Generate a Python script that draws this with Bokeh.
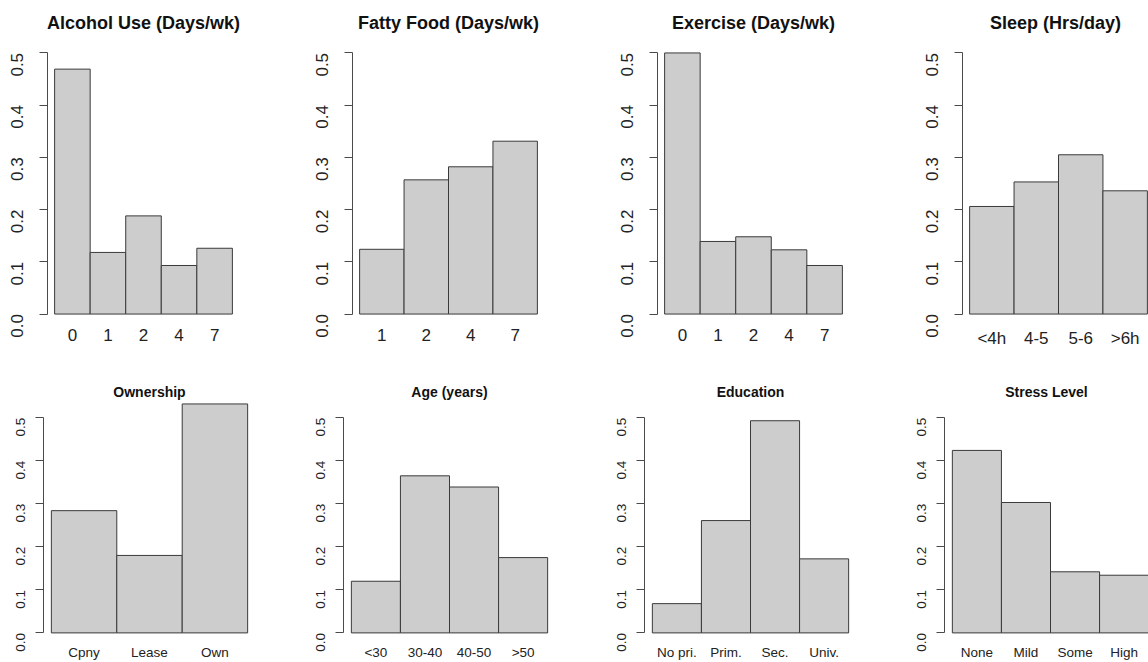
import math
from bokeh.plotting import figure
from bokeh.layouts import row, column
from bokeh.models import FixedTicker, Range1d, PrintfTickFormatter
from bokeh.embed import file_html
from bokeh.resources import INLINE

# ---- data (proportions) ----
alcohol_labels = ["0", "1", "2", "4", "7"]
alcohol_values = [0.469, 0.118, 0.188, 0.093, 0.126]
fatty_labels = ["1", "2", "4", "7"]
fatty_values = [0.124, 0.257, 0.282, 0.331]
exercise_labels = ["0", "1", "2", "4", "7"]
exercise_values = [0.500, 0.139, 0.148, 0.123, 0.093]
sleep_labels = ["<4h", "4-5", "5-6", ">6h"]
sleep_values = [0.206, 0.253, 0.305, 0.236]

ownership_labels = ["Cpny", "Lease", "Own"]
ownership_values = [0.284, 0.180, 0.532]
age_labels = ["<30", "30-40", "40-50", ">50"]
age_values = [0.120, 0.365, 0.339, 0.175]
education_labels = ["No pri.", "Prim.", "Sec.", "Univ."]
education_values = [0.068, 0.261, 0.493, 0.172]
stress_labels = ["None", "Mild", "Some", "High"]
stress_values = [0.424, 0.303, 0.142, 0.134]

y_ticks = [0.0, 0.1, 0.2, 0.3, 0.4, 0.5]

FONT = "Liberation Sans"


def panel(title, labels, values, width, height, b_left, b_right, b_top, b_bottom,
          full_frame, y_top, fs_title, fs_tick, tick_len, ystand, xstand, tstand,
          toffset=0):
    n = len(labels)
    frame_w = width - b_left - b_right
    ppu = full_frame / (1.08 * n)
    x0 = -0.04 * n
    x1 = x0 + frame_w / ppu
    p = figure(width=width, height=height,
               x_range=Range1d(x0, x1), y_range=Range1d(-0.02, y_top),
               output_backend="svg", toolbar_location=None,
               min_border_left=b_left, min_border_right=b_right,
               min_border_top=b_top, min_border_bottom=b_bottom,
               title=title)
    lefts = list(range(n))
    rights = [i + 1 for i in lefts]
    p.quad(left=lefts, right=rights, bottom=0, top=values,
           fill_color="#cdcdcd", line_color="#3a3a3a", line_width=1)

    p.title.text_font = FONT
    p.title.text_font_size = f"{fs_title}px"
    p.title.text_font_style = "bold"
    p.title.text_color = "#111111"
    p.title.align = "center"
    p.title.standoff = tstand
    p.title.offset = toffset

    p.xgrid.visible = False
    p.ygrid.visible = False
    p.outline_line_color = None
    p.background_fill_color = "white"
    p.border_fill_color = "white"

    xa = p.xaxis[0]
    centers = [i + 0.5 for i in lefts]
    xa.ticker = FixedTicker(ticks=centers)
    xa.major_label_overrides = {c: lab for c, lab in zip(centers, labels)}
    xa.axis_line_color = None
    xa.major_tick_line_color = None
    xa.minor_tick_line_color = None
    xa.major_tick_out = 0
    xa.major_tick_in = 0
    xa.major_label_standoff = xstand
    xa.major_label_text_font = FONT
    xa.major_label_text_font_size = f"{fs_tick}px"
    xa.major_label_text_color = "#222222"

    ya = p.yaxis[0]
    ya.bounds = (0, 0.5)
    ya.ticker = FixedTicker(ticks=y_ticks)
    ya.formatter = PrintfTickFormatter(format="%.1f")
    ya.major_label_orientation = math.pi / 2
    ya.axis_line_color = "#4a4a4a"
    ya.major_tick_line_color = "#4a4a4a"
    ya.minor_tick_line_color = None
    ya.major_tick_out = tick_len
    ya.major_tick_in = 0
    ya.major_label_standoff = ystand
    ya.major_label_text_font = FONT
    ya.major_label_text_font_size = f"{fs_tick}px"
    ya.major_label_text_color = "#222222"
    return p


top_specs = [
    ("Alcohol Use (Days/wk)", alcohol_labels, alcohol_values, 305, 66, 0),
    ("Fatty Food (Days/wk)", fatty_labels, fatty_values, 305, 66, 0),
    ("Exercise (Days/wk)", exercise_labels, exercise_values, 305, 66, 0),
    ("Sleep (Hrs/day)", sleep_labels, sleep_values, 233, 0, 3),
]
bottom_specs = [
    ("Ownership", ownership_labels, ownership_values, 300, 45, 0),
    ("Age (years)", age_labels, age_values, 301, 46, 0),
    ("Education", education_labels, education_values, 300, 45, 0),
    ("Stress Level", stress_labels, stress_values, 247, 0, 4),
]

top_row = [panel(t, l, v, w, 353, 47, br, 42, 29, 192, 0.52, 18, 17, 8, 22, 4, 19, off)
           for (t, l, v, w, br, off) in top_specs]
bottom_row = [panel(t, l, v, w, 309, 43, br, 47, 19, 212, 0.54, 14, 13.5, 8, 15, 3, 1, off)
              for (t, l, v, w, br, off) in bottom_specs]

layout = column(row(*top_row), row(*bottom_row))

open("out.html", "w").write(file_html(layout, INLINE))
